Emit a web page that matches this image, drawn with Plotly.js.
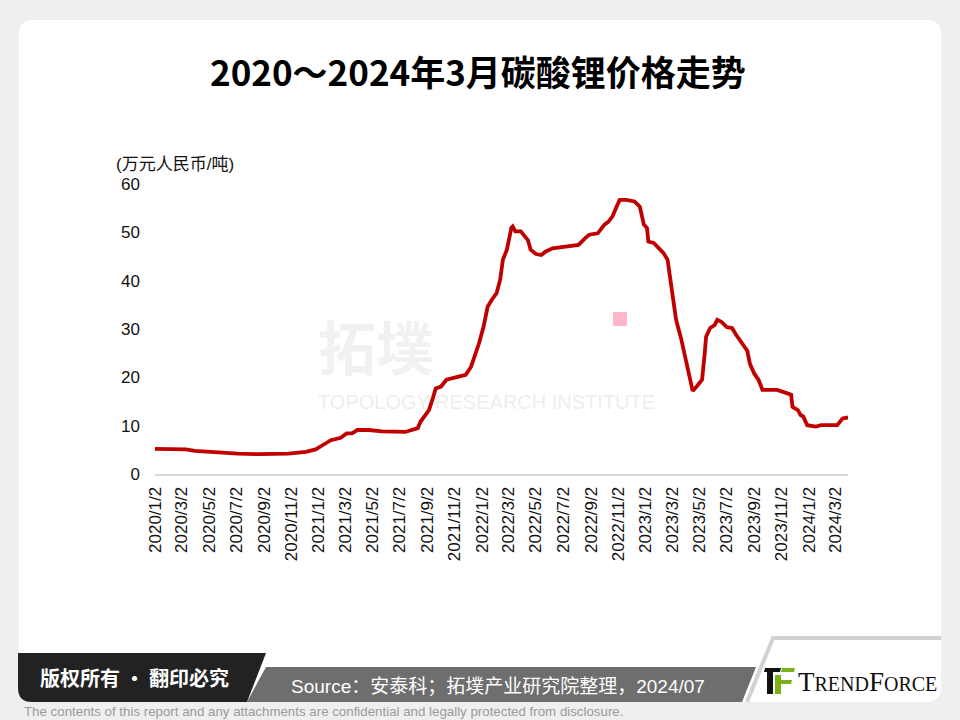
<!DOCTYPE html>
<html>
<head>
<meta charset="utf-8">
<script src="https://cdn.plot.ly/plotly-3.0.1.min.js"></script>
<style>
  html, body { margin: 0; padding: 0; background: #efefef; }
  #chart { width: 960px; height: 720px; }
</style>
</head>
<body>
<div id="chart"></div>
<script>
// ---- data ----
const dates = ['2020-01-02','2020-03-11','2020-03-31','2020-05-14','2020-07-05','2020-08-20','2020-10-26','2020-12-04','2020-12-26',
  '2021-01-11','2021-01-29','2021-02-20','2021-03-05','2021-03-17','2021-03-29','2021-04-23','2021-05-23','2021-07-14','2021-07-29','2021-08-11','2021-08-17','2021-09-02','2021-09-05','2021-09-14','2021-09-20','2021-10-02','2021-10-14','2021-11-08','2021-11-26','2021-12-08','2021-12-17','2021-12-26',
  '2022-01-05','2022-01-14','2022-01-23','2022-02-03','2022-02-11','2022-02-17','2022-02-26','2022-03-08','2022-03-11','2022-03-17','2022-03-29','2022-04-14','2022-04-20','2022-05-02','2022-05-14','2022-05-23','2022-06-08','2022-07-23','2022-08-05','2022-08-20','2022-08-29','2022-09-17','2022-10-02','2022-10-11','2022-10-20','2022-10-29','2022-11-05','2022-11-20','2022-12-08','2022-12-20','2022-12-29',
  '2023-01-05','2023-01-08','2023-01-20','2023-02-02','2023-02-11','2023-02-20','2023-02-26','2023-03-05','2023-03-11','2023-03-23','2023-04-03','2023-04-11','2023-04-17','2023-04-26','2023-05-08','2023-05-14','2023-05-17','2023-05-26','2023-06-05','2023-06-11','2023-06-20','2023-07-02','2023-07-14','2023-07-23','2023-08-05','2023-08-17','2023-08-23','2023-09-02','2023-09-11','2023-09-20','2023-10-23','2023-11-08','2023-11-23','2023-11-26','2023-12-08','2023-12-14','2023-12-20','2023-12-29',
  '2024-01-17','2024-01-29','2024-03-05','2024-03-17','2024-03-29'];
const prices = [5.2,5.1,4.8,4.5,4.2,4.1,4.2,4.6,5.1,
  6.0,7.0,7.5,8.4,8.4,9.1,9.1,8.8,8.7,9.2,9.5,10.8,12.6,13.2,15.8,17.7,18.1,19.5,20.1,20.5,22.2,24.6,27.1,
  30.5,34.6,36.0,37.4,40.2,44.3,46.4,50.9,51.2,50.2,50.2,48.4,46.4,45.5,45.3,46.0,46.7,47.1,47.4,48.8,49.5,49.8,51.6,52.2,53.3,55.3,56.7,56.7,56.4,55.3,51.6,
  50.9,48.1,47.8,46.7,45.7,44.3,40.2,36.7,31.9,27.7,23.3,20.1,17.2,18.1,19.5,25.0,28.4,30.2,30.8,31.9,31.5,30.4,30.2,28.8,27.1,25.5,22.8,20.7,19.5,17.4,17.4,16.8,16.4,13.9,13.2,12.2,11.9,10.1,
  9.8,10.1,10.1,11.5,11.7];
const tickDates = ['2020-01-02','2020-03-02','2020-05-02','2020-07-02','2020-09-02','2020-11-02',
  '2021-01-02','2021-03-02','2021-05-02','2021-07-02','2021-09-02','2021-11-02',
  '2022-01-02','2022-03-02','2022-05-02','2022-07-02','2022-09-02','2022-11-02',
  '2023-01-02','2023-03-02','2023-05-02','2023-07-02','2023-09-02','2023-11-02',
  '2024-01-02','2024-03-02'];
const tickLabels = ['2020/1/2','2020/3/2','2020/5/2','2020/7/2','2020/9/2','2020/11/2',
  '2021/1/2','2021/3/2','2021/5/2','2021/7/2','2021/9/2','2021/11/2',
  '2022/1/2','2022/3/2','2022/5/2','2022/7/2','2022/9/2','2022/11/2',
  '2023/1/2','2023/3/2','2023/5/2','2023/7/2','2023/9/2','2023/11/2',
  '2024/1/2','2024/3/2'];
const titleText = '2020～2024年3月碳酸锂价格走势';
const yUnit = '(万元人民币/吨)';
const sourceText = 'Source：安泰科；拓墣产业研究院整理，2024/07';
const copyText = '版权所有 · 翻印必究';
const footText = 'The contents of this report and any attachments are confidential and legally protected from disclosure.';

// ---- geometry helpers (pixel -> paper) ----
const L = 155, R = 848, T = 184, B = 474;
const W = R - L, H = B - T;
const px = x => (x - L) / W;
const py = y => (B - y) / H;
const P = (x, y) => px(x).toFixed(5) + ',' + py(y).toFixed(5);
function roundRect(x0, y0, x1, y1, r) {
  return 'M' + P(x0 + r, y0) + ' L' + P(x1 - r, y0) + ' Q' + P(x1, y0) + ' ' + P(x1, y0 + r) +
    ' L' + P(x1, y1 - r) + ' Q' + P(x1, y1) + ' ' + P(x1 - r, y1) +
    ' L' + P(x0 + r, y1) + ' Q' + P(x0, y1) + ' ' + P(x0, y1 - r) +
    ' L' + P(x0, y0 + r) + ' Q' + P(x0, y0) + ' ' + P(x0 + r, y0) + ' Z';
}
function poly(pts) {
  return 'M' + pts.map(p => P(p[0], p[1])).join(' L') + ' Z';
}
const paperShape = (path, fill, extra) => Object.assign({
  type: 'path', xref: 'paper', yref: 'paper', path: path,
  fillcolor: fill, line: { width: 0 }, layer: 'below'
}, extra || {});

const shapes = [
  paperShape(roundRect(19, 20, 941, 702, 14), '#ffffff'),
  paperShape('M' + P(18, 653) + ' L' + P(266, 653) + ' L' + P(247, 702) + ' L' + P(32, 702) + ' Q' + P(18, 702) + ' ' + P(18, 688) + ' Z', '#222222'),
  paperShape(poly([[266, 667], [756, 667], [742, 702], [247, 702]]), '#6e6e6e'),
  { type: 'path', xref: 'paper', yref: 'paper', layer: 'below',
    path: 'M' + P(747, 702) + ' L' + P(773, 638) + ' L' + P(941, 638),
    line: { color: '#d2d2d2', width: 4 } },
  // watermark pink square
  paperShape(poly([[613, 312], [627, 312], [627, 326], [613, 326]]), '#ffb6ca'),
  // TrendForce icon
  paperShape(poly([[765, 668], [781, 668], [780, 672], [764, 672]]), '#111111', { layer: 'above' }),
  paperShape(poly([[767, 672], [773, 672], [773, 694], [767, 694]]), '#111111', { layer: 'above' }),
  paperShape(poly([[782, 668], [795, 668], [794, 672], [781, 672]]), '#7ab317', { layer: 'above' }),
  paperShape(poly([[775, 675], [781, 675], [781, 694], [775, 694]]), '#7ab317', { layer: 'above' }),
  paperShape(poly([[781, 680], [792, 680], [791, 684], [781, 684]]), '#7ab317', { layer: 'above' })
];

const ann = (x, y, text, font, xanchor, extra) => Object.assign({
  xref: 'paper', yref: 'paper', x: px(x), y: py(y), text: text, showarrow: false,
  xanchor: xanchor || 'center', yanchor: 'middle', font: font
}, extra || {});

const annotations = [
  ann(478, 70, '<b>' + titleText + '</b>', { family: 'Noto Sans CJK SC, sans-serif', size: 35, color: '#000000' }),
  ann(114, 164, yUnit, { family: 'Liberation Sans, Noto Sans CJK SC, sans-serif', size: 17, color: '#111111' }, 'left'),
  ann(316, 345, '<b>拓墣</b>', { family: 'Noto Sans CJK SC, sans-serif', size: 58, color: 'rgba(170,170,170,0.16)' }, 'left'),
  ann(316, 402, 'TOPOLOGY RESEARCH INSTITUTE', { family: 'Liberation Sans, Arial, sans-serif', size: 20, color: 'rgba(170,170,170,0.22)' }, 'left'),
  ann(38, 677, '<b>' + copyText + '</b>', { family: 'Noto Sans CJK SC, sans-serif', size: 20, color: '#ffffff' }, 'left'),
  ann(498, 686, sourceText, { family: 'Liberation Sans Narrow, Liberation Sans, Noto Sans CJK SC, sans-serif', size: 19, color: '#ffffff' }),
  ann(796, 682, '<span style="font-size:27px">T</span>REND<span style="font-size:27px">F</span>ORCE', { family: 'Liberation Serif, serif', size: 20, color: '#111111' }, 'left'),
  ann(22, 711, footText, { family: 'Liberation Sans Narrow, Liberation Sans, sans-serif', size: 13.3, color: '#9a9a9a' }, 'left')
];

const trace = {
  x: dates, y: prices, type: 'scatter', mode: 'lines',
  line: { color: '#c00000', width: 3.8 },
  hoverinfo: 'skip'
};

const layout = {
  width: 960, height: 720,
  margin: { l: L, r: 960 - R, t: T, b: 720 - B, pad: 0 },
  paper_bgcolor: '#efefef',
  plot_bgcolor: 'rgba(0,0,0,0)',
  showlegend: false,
  xaxis: {
    type: 'date', range: ['2020-01-02', '2024-03-29'],
    tickmode: 'array', tickvals: tickDates, ticktext: tickLabels,
    tickangle: -90, showgrid: false, zeroline: false,
    showline: true, linecolor: '#d9d9d9', linewidth: 2, ticks: '',
    ticklabelstandoff: 4,
    tickfont: { family: 'Liberation Sans, Arial, sans-serif', size: 17, color: '#111111' }
  },
  yaxis: {
    range: [0, 60], tickmode: 'linear', tick0: 0, dtick: 10,
    showgrid: false, zeroline: false, showline: false, ticks: '',
    ticklabelstandoff: 14,
    tickfont: { family: 'Liberation Sans, Arial, sans-serif', size: 17, color: '#111111' }
  },
  shapes: shapes,
  annotations: annotations
};

Plotly.newPlot('chart', [trace], layout, { staticPlot: true, displayModeBar: false });
</script>
</body>
</html>
